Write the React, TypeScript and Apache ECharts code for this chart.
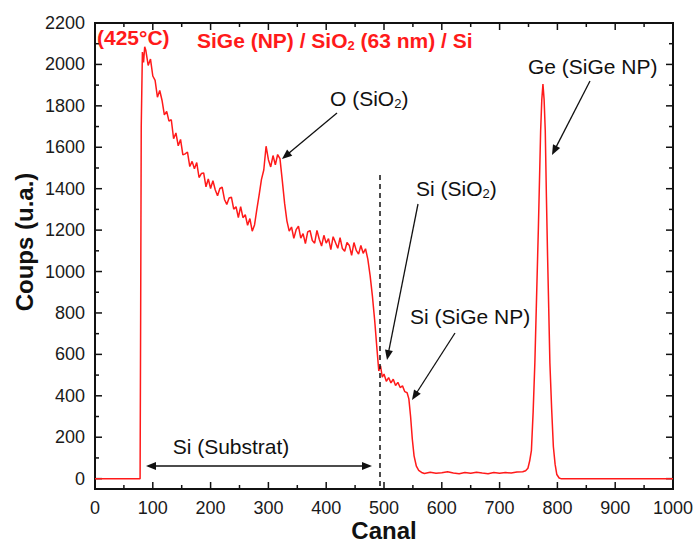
import React, { useEffect, useRef } from "react";
import * as echarts from "echarts";

// ---- data ----
const channels: number[] = [
  0, 78, 79, 80, 82, 84, 86,
  88, 92, 96, 100, 104, 108, 112, 116, 120, 124, 128, 132, 136, 140, 144, 148,
  152, 156, 160, 164, 168, 172, 176, 180, 184, 188, 192, 196, 200, 204, 208, 212,
  216, 220, 224, 228, 232, 236, 240, 244, 248, 252, 256, 260, 264, 268, 272, 276,
  280, 284, 288, 292, 296, 300, 304, 308, 312, 316, 320, 324, 328, 332, 336, 340,
  344, 348, 352, 356, 360, 364, 368, 372, 376, 380, 384, 388, 392, 396, 400, 404,
  408, 412, 416, 420, 424, 428, 432, 436, 440, 444, 448, 452, 456, 460, 464, 468,
  472, 476, 480, 484, 488, 491, 494, 497, 500, 504, 508, 512, 516, 520, 524, 528,
  532, 536, 540, 543, 546, 549, 552, 556, 560, 565,
  570, 580, 590, 600, 610, 620, 630, 640, 650, 660, 670, 680, 690, 700, 710, 720, 730, 740, 745,
  749, 752, 755, 758, 761, 764, 767, 769, 771, 773, 775, 777, 779, 781, 783, 785, 787, 790,
  793, 796, 799, 803, 806, 1000,
];
const counts: number[] = [
  0, 0, 800, 1700, 2060, 2010, 2085,
  2067, 1995, 2026, 1944, 1923, 1842, 1874, 1826, 1756, 1773, 1726, 1733, 1641, 1669, 1607, 1638,
  1563, 1568, 1577, 1507, 1532, 1496, 1526, 1454, 1473, 1476, 1409, 1447, 1401, 1439, 1395, 1366,
  1401, 1407, 1348, 1324, 1355, 1359, 1301, 1313, 1261, 1313, 1260, 1274, 1223, 1256, 1195, 1225,
  1300, 1370, 1445, 1490, 1605, 1540, 1505, 1560, 1515, 1565, 1545, 1440, 1330, 1245, 1195, 1215,
  1160, 1202, 1219, 1161, 1183, 1135, 1191, 1198, 1150, 1137, 1199, 1156, 1123, 1175, 1137, 1159,
  1106, 1168, 1140, 1112, 1164, 1111, 1098, 1140, 1126, 1078, 1140, 1102, 1084, 1126, 1088, 1110,
  1060, 980, 880, 760, 620, 520, 545, 490, 505, 470, 488, 462, 480, 450, 465, 440,
  448, 420, 415, 385, 300, 190, 110, 60, 40, 30,
  25, 31, 26, 29, 33, 27, 24, 30, 26, 31, 27, 24, 30, 26, 30, 27, 32, 33, 38,
  50, 85, 135, 320, 560, 880, 1200, 1440, 1680, 1830, 1905, 1830, 1680, 1360, 1075, 820, 560, 340,
  155, 70, 20, 3, 0, 0,
];

const xMin = 0;
const xMax = 1000;
const yMin = -50;
const yMax = 2200;
const xMajorTicks: number[] = [0, 100, 200, 300, 400, 500, 600, 700, 800, 900, 1000];
const xMinorTicks: number[] = [50, 150, 250, 350, 450, 550, 650, 750, 850, 950];
const yMajorTicks: number[] = [0, 200, 400, 600, 800, 1000, 1200, 1400, 1600, 1800, 2000, 2200];
const yMinorTicks: number[] = [100, 300, 500, 700, 900, 1100, 1300, 1500, 1700, 1900, 2100];
const dashChannel = 493;
const dashTop = 1466;

const FONT = "'Liberation Sans', Arial, Helvetica, sans-serif";
const INK = "#111";
const RED = "#ff1a1a";

const GRID = { left: 95, right: 24, top: 23, bottom: 53 };
const W = 697, H = 542;
const plotW = W - GRID.left - GRID.right;
const plotH = H - GRID.top - GRID.bottom;
// same linear mapping as the chart's value axes
const toPxX = (x: number) => GRID.left + ((x - xMin) / (xMax - xMin)) * plotW;
const toPxY = (y: number) => GRID.top + ((yMax - y) / (yMax - yMin)) * plotH;

function arrow(x1: number, y1: number, x2: number, y2: number): any[] {
  const dx = x2 - x1, dy = y2 - y1;
  const len = Math.hypot(dx, dy);
  const ux = dx / len, uy = dy / len;
  const L = 10, Wd = 4;
  const bx = x2 - ux * L, by = y2 - uy * L;
  return [
    { type: "line", shape: { x1, y1, x2: bx + ux * 2, y2: by + uy * 2 }, style: { stroke: INK, lineWidth: 1.3 } },
    {
      type: "polygon",
      shape: { points: [[x2, y2], [bx - uy * Wd, by + ux * Wd], [bx + uy * Wd, by - ux * Wd]] },
      style: { fill: INK },
    },
  ];
}

const richSub = {
  b: { fontSize: 21, lineHeight: 24, fontFamily: FONT, fill: INK },
  s: { fontSize: 13, lineHeight: 13, verticalAlign: "bottom", fontFamily: FONT, fill: INK },
};

function label(x: number, y: number, text: string, align = "left"): any {
  return {
    type: "text",
    x,
    y,
    style: { text, fontSize: 21, fontFamily: FONT, fill: INK, align, verticalAlign: "middle", rich: richSub },
  };
}

const plain = (v: number) => String(v);

// filled bars (frame edges and ticks)
function bar(x: number, y: number, w: number, h: number): any {
  return { type: "rect", shape: { x, y, width: w, height: h }, style: { fill: INK } };
}

function frameAndTicks(): any[] {
  const L = toPxX(xMin), R = toPxX(xMax), T = toPxY(yMax), B = toPxY(yMin);
  const lw = 2, tw = 1.5;
  const out: any[] = [
    bar(L - lw / 2, B - lw / 2, R - L + lw, lw),
    bar(L - lw / 2, T - lw / 2, R - L + lw, lw),
    bar(L - lw / 2, T - lw / 2, lw, B - T + lw),
    bar(R - lw / 2, T - lw / 2, lw, B - T + lw),
  ];
  const vt = (v: number, len: number) => {
    const x = toPxX(v) - tw / 2;
    out.push(bar(x, B - len, tw, len));
    out.push(bar(x, T, tw, len));
  };
  const ht = (v: number, len: number) => {
    const y = toPxY(v) - tw / 2;
    out.push(bar(L, y, len, tw));
    out.push(bar(R - len, y, len, tw));
  };
  xMajorTicks.forEach((v) => vt(v, 7));
  xMinorTicks.forEach((v) => vt(v, 4));
  yMajorTicks.forEach((v) => ht(v, 7));
  yMinorTicks.forEach((v) => ht(v, 4));
  return out;
}

export default function App() {
  const ref = useRef<HTMLDivElement>(null);
  useEffect(() => {
    if (!ref.current) return;
    const chart = echarts.init(ref.current, undefined, { renderer: "svg" });
    const data = channels.map((c, i) => [c, counts[i]]);
    const labelStyle = { fontSize: 18, color: "#1a1a1a", fontFamily: FONT, formatter: plain };
    const redRich = {
      b: { fontSize: 21, lineHeight: 24, fontWeight: "bold", fontFamily: FONT, fill: RED },
      s: { fontSize: 13, lineHeight: 13, fontWeight: "bold", verticalAlign: "bottom", fontFamily: FONT, fill: RED },
    };
    const graphics: any[] = [
      ...frameAndTicks(),
      {
        type: "text", x: 24, y: 242, rotation: Math.PI / 2,
        style: { text: "Coups (u.a.)", fontSize: 24, fontWeight: "bold", fontFamily: FONT, fill: INK, align: "center", verticalAlign: "middle" },
      },
      {
        type: "text", x: 384, y: 530,
        style: { text: "Canal", fontSize: 24, fontWeight: "bold", fontFamily: FONT, fill: INK, align: "center", verticalAlign: "middle" },
      },
      {
        type: "text", x: 97, y: 37,
        style: { text: "(425°C)", fontSize: 21, fontWeight: "bold", fontFamily: FONT, fill: RED, verticalAlign: "middle" },
      },
      {
        type: "text", x: 197, y: 40,
        style: { text: "{b|SiGe (NP) / SiO}{s|2}{b| (63 nm) / Si}", verticalAlign: "middle", rich: redRich },
      },
      label(330, 98, "{b|O (SiO}{s|2}{b|)}"),
      ...arrow(337, 113, 282, 159),
      label(416, 188, "{b|Si (SiO}{s|2}{b|)}"),
      ...arrow(418, 204, 387, 360),
      label(410, 316, "Si (SiGe NP)"),
      ...arrow(455, 333, 412, 400),
      label(528, 66, "Ge (SiGe NP)"),
      ...arrow(590, 81, 552, 155),
      label(231, 446, "Si (Substrat)", "center"),
      ...arrow(260, 466, 146, 466),
      ...arrow(260, 466, 372, 466),
    ];
    chart.setOption({
      animation: false,
      backgroundColor: "#fff",
      grid: { ...GRID, containLabel: false, outerBoundsMode: "none" },
      xAxis: {
        type: "value",
        min: xMin,
        max: xMax,
        interval: 100,
        axisLine: { show: false, onZero: false },
        axisTick: { show: false },
        axisLabel: { ...labelStyle, margin: 10 },
        splitLine: { show: false },
      },
      yAxis: {
        type: "value",
        min: yMin,
        max: yMax,
        axisLine: { show: false, onZero: false },
        axisTick: { show: false },
        axisLabel: { ...labelStyle, margin: 10, customValues: yMajorTicks },
        splitLine: { show: false },
      },
      series: [
        {
          type: "line",
          data,
          clip: false,
          showSymbol: false,
          symbol: "none",
          lineStyle: { color: RED, width: 1.5 },
          z: 3,
          markLine: {
            silent: true,
            symbol: ["none", "none"],
            label: { show: false },
            lineStyle: { type: [5, 4], color: INK, width: 1.5 },
            data: [[{ coord: [dashChannel, dashTop] }, { coord: [dashChannel, yMin] }]],
          },
        },
      ],
      graphic: graphics,
    });
    return () => chart.dispose();
  }, []);
  return (
    <div ref={ref} style={{ position: "fixed", left: 0, top: 0, width: W, height: H, background: "#fff" }} />
  );
}
